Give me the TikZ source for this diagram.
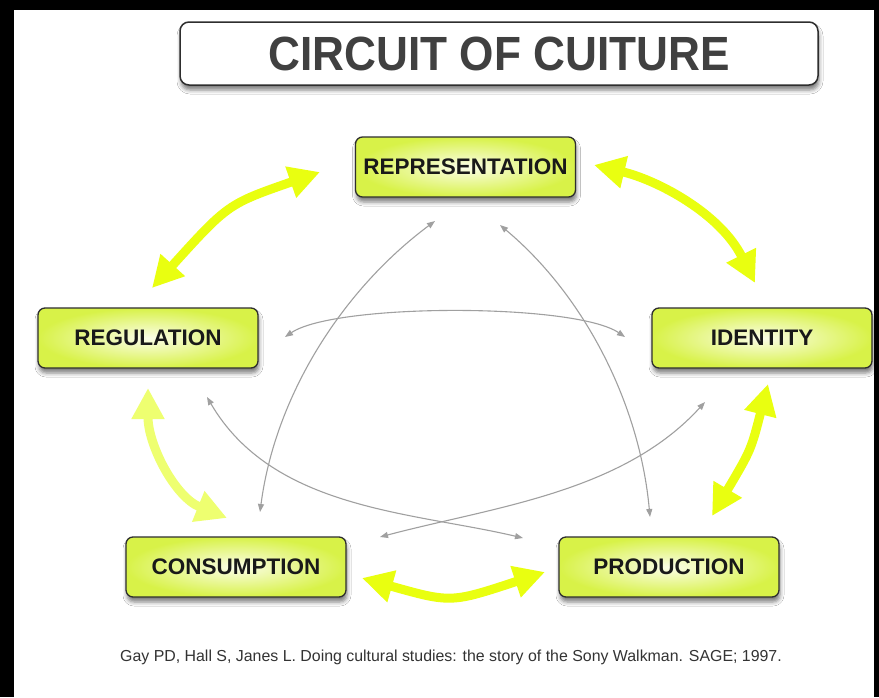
\documentclass[tikz,border=0pt]{standalone}
\usepackage{fontspec}
\setmainfont{Liberation Sans}
\usetikzlibrary{arrows.meta,shadows.blur}

\definecolor{limeout}{HTML}{D8F248}
\definecolor{limein}{HTML}{FBFDE8}
\definecolor{boxline}{HTML}{2E2E2E}
\definecolor{arrowyellow}{HTML}{E9FF10}
\definecolor{paleyellow}{HTML}{EEFF70}
\definecolor{linkgray}{HTML}{A0A0A0}
\definecolor{titlegray}{HTML}{404040}
\definecolor{citegray}{HTML}{333333}

\tikzset{
  stage/.style={draw=boxline, line width=1.3pt, rounded corners=7pt,
    shading=radial, inner color=limein, outer color=limeout,
    minimum width=220pt, minimum height=60pt,
    font=\fontsize{22.5}{24}\selectfont\bfseries, text=black!90,
    blur shadow={shadow xshift=1pt, shadow yshift=-5pt,
      shadow blur radius=4pt, shadow opacity=50}},
  headline/.style={draw=boxline, line width=1.5pt, rounded corners=9pt,
    fill=white, minimum width=638pt, minimum height=63pt,
    font=\fontsize{48}{50}\selectfont\bfseries, text=titlegray,
    blur shadow={shadow xshift=1pt, shadow yshift=-5pt,
      shadow blur radius=4pt, shadow opacity=50}},
  flow/.style={line width=9pt, draw=arrowyellow,
    {Triangle[length=31pt,width=31pt]}-{Triangle[length=31pt,width=31pt]}},
  paleflow/.style={flow, draw=paleyellow},
  link/.style={draw=linkgray, line width=1.1pt,
    {Triangle[length=8pt,width=6pt]}-{Triangle[length=8pt,width=6pt]}},
}

\begin{document}
\begin{tikzpicture}[x=1pt,y=-1pt]
  % frame
  \useasboundingbox (0,0) rectangle (879,697);
  \fill[black] (0,0) rectangle (879,697);
  \fill[white] (14,10) rectangle (874,697);

  % title
  \node[headline] (title) at (499,53.5) {\scalebox{0.92}[1]{CIRCUIT OF CUITURE}};

  % the five moments
  \node[stage] (rep)  at (465.5,167) {REPRESENTATION};
  \node[stage] (reg)  at (148,338)   {REGULATION};
  \node[stage] (iden) at (762,338)   {IDENTITY};
  \node[stage] (cons) at (236,567)   {CONSUMPTION};
  \node[stage] (prod) at (669,567)   {PRODUCTION};

  % ends of the outer yellow arrows
  \coordinate (repL)  at (320,172);
  \coordinate (regT)  at (152,288);
  \coordinate (repR)  at (594,165);
  \coordinate (idenT) at (755,283);
  \coordinate (regB)  at (148,388);
  \coordinate (consT) at (227,518);
  \coordinate (idenB) at (768,384);
  \coordinate (prodT) at (712,516);
  \coordinate (consR) at (362,578);
  \coordinate (prodL) at (545,572);

  \draw[flow] (repL) .. controls (228,204) .. (regT);
  \draw[flow] (repR) .. controls (657,180) and (720,213) .. (idenT);
  \draw[paleflow] (regB) .. controls (148,445) and (175,497) .. (consT);
  \draw[flow] (idenB) .. controls (751,450) .. (prodT);
  \draw[flow] (consR) .. controls (451,603) .. (prodL);

  % ends of the inner grey links
  \coordinate (ga1) at (435,221);
  \coordinate (ga2) at (260,512);
  \coordinate (gb1) at (500,225);
  \coordinate (gb2) at (650,517);
  \coordinate (gc1) at (285,337);
  \coordinate (gc2) at (625,337);
  \coordinate (gd1) at (207,397);
  \coordinate (gd2) at (523,538);
  \coordinate (ge1) at (705,402);
  \coordinate (ge2) at (380,537);

  \draw[link] (ga1) .. controls (341,291) and (275,397) .. (ga2);
  \draw[link] (gb1) .. controls (586,297) and (640,406) .. (gb2);
  \draw[link] (gc1) .. controls (335,303) and (575,303) .. (gc2);
  \draw[link] (gd1) .. controls (273,510) and (413,512) .. (gd2);
  \draw[link] (ge1) .. controls (622,493) and (493,507) .. (ge2);

  % source
  \node[font=\fontsize{15.9}{18}\selectfont, text=citegray] (cite) at (451,657)
    {Gay PD, Hall S, Janes L. Doing cultural studies: the story of the Sony Walkman. SAGE; 1997.};
\end{tikzpicture}
\end{document}
